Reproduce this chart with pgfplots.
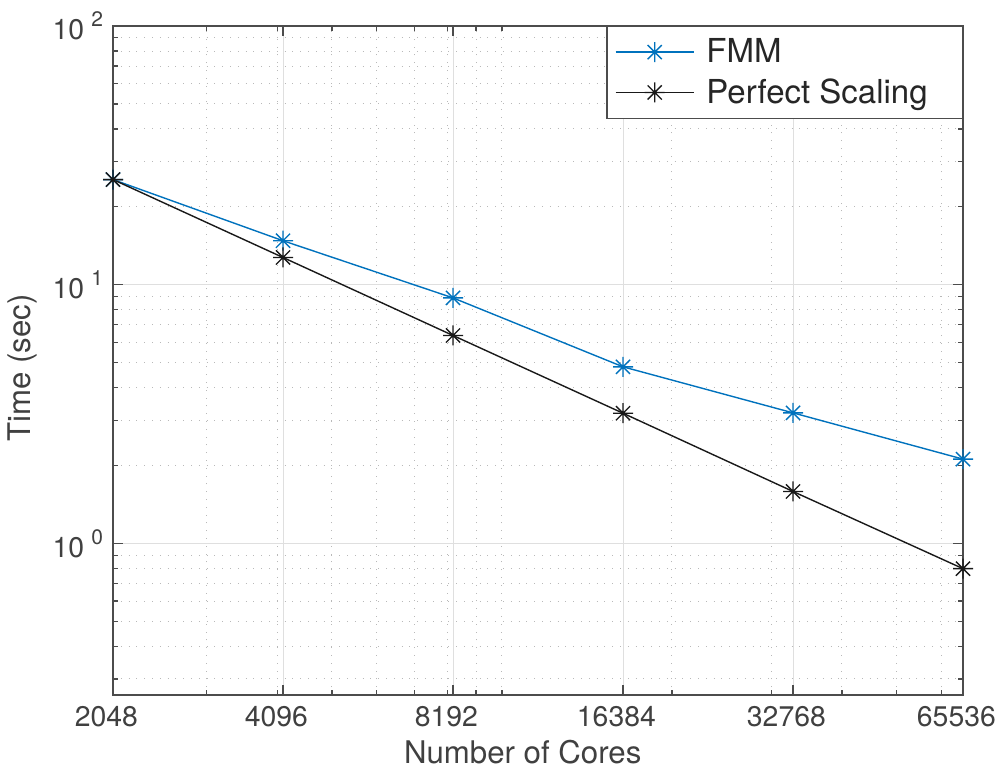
\documentclass[border=0pt]{standalone}
\usepackage{pgfplots}
\pgfplotsset{compat=1.18}
\usepackage{fontspec}
\setmainfont{TeX Gyre Heros}

\definecolor{mblue}{rgb}{0,0.447,0.741}
\definecolor{txt}{gray}{0.25}
\definecolor{axc}{gray}{0.3}

% MATLAB-like '*' marker: a plus and a cross on top of each other
\pgfdeclareplotmark{mstar}{%
  \pgfpathmoveto{\pgfqpoint{0pt}{\pgfplotmarksize}}%
  \pgfpathlineto{\pgfqpoint{0pt}{-\pgfplotmarksize}}%
  \pgfpathmoveto{\pgfqpoint{\pgfplotmarksize}{0pt}}%
  \pgfpathlineto{\pgfqpoint{-\pgfplotmarksize}{0pt}}%
  \pgfpathmoveto{\pgfqpoint{.7071\pgfplotmarksize}{.7071\pgfplotmarksize}}%
  \pgfpathlineto{\pgfqpoint{-.7071\pgfplotmarksize}{-.7071\pgfplotmarksize}}%
  \pgfpathmoveto{\pgfqpoint{-.7071\pgfplotmarksize}{.7071\pgfplotmarksize}}%
  \pgfpathlineto{\pgfqpoint{.7071\pgfplotmarksize}{-.7071\pgfplotmarksize}}%
  \pgfusepathqstroke}

\newcommand{\dec}[1]{10\kern3.5pt\raisebox{6.5pt}{\fontsize{10.5}{10.5}\selectfont #1}}

\pgfplotstableread{
cores time
2048  25.5
4096  14.8
8192  8.9
16384 4.82
32768 3.2
65536 2.12
}\fmm

\pgfplotstableread{
cores time
2048  25.5
4096  12.75
8192  6.37
16384 3.19
32768 1.59
65536 0.80
}\perfect

\begin{document}
\begin{tikzpicture}
\useasboundingbox (-56.5pt,-40pt) rectangle (442pt,347.5pt);
\begin{axis}[
    scale only axis,
    width=425pt,
    height=334.5pt,
    xmode=log, ymode=log,
    xmin=2048, xmax=65536,
    ymin=0.26, ymax=100,
    xtick={2048,4096,8192,16384,32768,65536},
    xticklabels={2048,4096,8192,16384,32768,65536},
    minor xtick={3000,4000,5000,6000,7000,8000,9000,10000,20000,30000,40000,50000,60000},
    ytick={1,10,100},
    yticklabels={\dec{0},\dec{1},\dec{2}},
    minor ytick={0.3,0.4,0.5,0.6,0.7,0.8,0.9,2,3,4,5,6,7,8,9,20,30,40,50,60,70,80,90},
    tick align=inside,
    major tick length=5pt,
    minor tick length=2.5pt,
    tick style={axc, line width=0.6pt},
    axis line style={axc, line width=0.6pt},
    grid=both,
    major grid style={gray!25, line width=0.5pt, solid},
    minor grid style={gray!55, line width=0.5pt, dash pattern=on 0.5pt off 3.4pt},
    ticklabel style={font=\fontsize{14.2}{16}\selectfont, text=txt},
    xticklabel style={xshift=-3.3pt, yshift=-2pt},
    yticklabel style={xshift=-1.5pt},
    label style={font=\fontsize{15.6}{18}\selectfont, text=txt},
    xlabel={Number of Cores},
    ylabel={Time (sec)},
    xlabel style={at={(axis description cs:0.482,-0.0852)}, anchor=center},
    ylabel style={at={(axis description cs:-0.106,0.489)}, anchor=center},
    legend style={at={(1,1)}, anchor=north east, draw=axc, line width=0.6pt,
        font=\fontsize{16.5}{19}\selectfont, text=black!85, inner sep=4pt,
        row sep=2.5pt, /tikz/every odd column/.append style={column sep=4pt}},
    legend cell align=left,
    legend image code/.code={%
        \draw[mark repeat=2, mark phase=2] plot coordinates {(0pt,0pt) (19.5pt,0pt) (39pt,0pt)};},
]
\addplot[mblue, line width=0.7pt, mark=mstar, mark size=5pt] table[x=cores, y=time] {\fmm};
\addlegendentry{FMM}
\addplot[black!90, line width=0.7pt, mark=mstar, mark size=5pt] table[x=cores, y=time] {\perfect};
\addlegendentry{\makebox[122pt][l]{Perfect Scaling}}
\end{axis}
\end{tikzpicture}
\end{document}
